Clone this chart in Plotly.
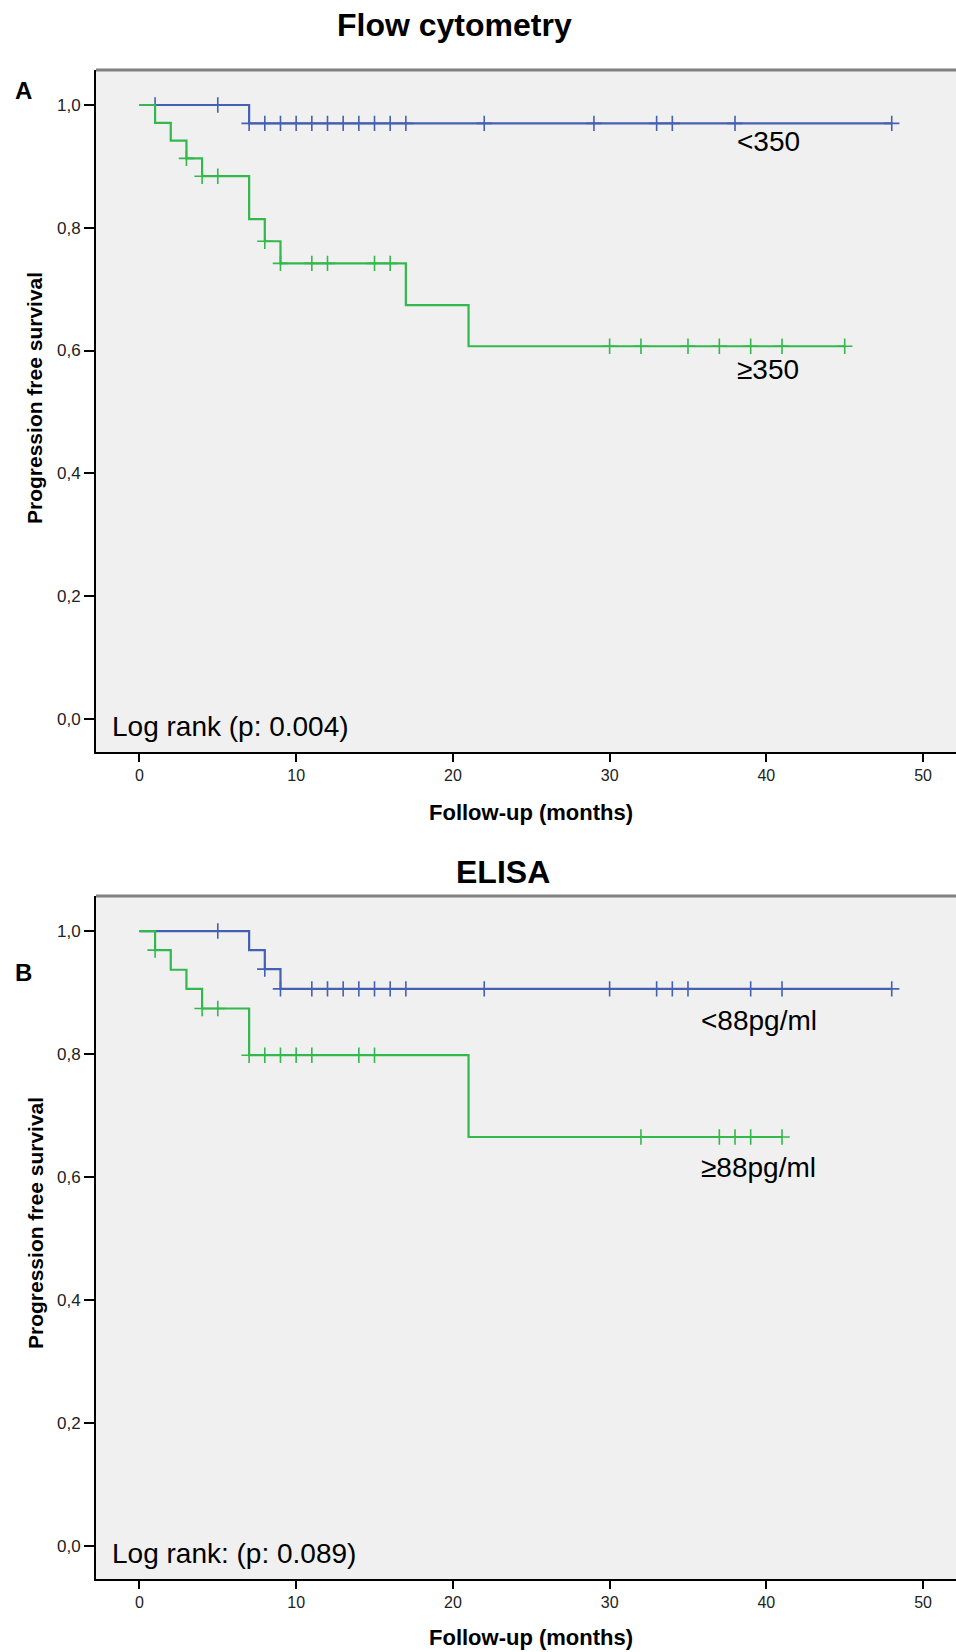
import plotly.graph_objects as go

# ---------------- data ----------------
# Panel A: Flow cytometry
fc_low_drop_t = [7]
fc_low_drop_s = [0.970]
fc_low_end = 48
fc_low_censor = [1, 5, 7, 8, 9, 10, 11, 12, 13, 14, 15, 16, 17, 22, 29, 33, 34, 38, 48]

fc_high_drop_t = [1, 2, 3, 4, 7, 8, 9, 17, 21]
fc_high_drop_s = [0.971, 0.942, 0.913, 0.884, 0.814, 0.778, 0.742, 0.674, 0.607]
fc_high_end = 45
fc_high_censor = [3, 4, 5, 8, 9, 11, 12, 15, 16, 30, 32, 35, 37, 39, 41, 45]

# Panel B: ELISA
el_low_drop_t = [7, 8, 9]
el_low_drop_s = [0.969, 0.938, 0.906]
el_low_end = 48
el_low_censor = [5, 8, 9, 11, 12, 13, 14, 15, 16, 17, 22, 30, 33, 34, 35, 39, 41, 48]

el_high_drop_t = [1, 2, 3, 4, 7, 21]
el_high_drop_s = [0.969, 0.937, 0.906, 0.874, 0.798, 0.665]
el_high_end = 41
el_high_censor = [1, 4, 5, 7, 8, 9, 10, 11, 14, 15, 32, 37, 38, 39, 41]

x_ticks = [0, 10, 20, 30, 40, 50]
y_ticks = [0.0, 0.2, 0.4, 0.6, 0.8, 1.0]
y_ticktext = ["0,0", "0,2", "0,4", "0,6", "0,8", "1,0"]

BLUE = "#4560b3"
GREEN = "#33b84c"
FONT = "Liberation Sans, Arial, sans-serif"


def level_at(t, drop_t, drop_s):
    s = 1.0
    for dt, ds in zip(drop_t, drop_s):
        if dt <= t:
            s = ds
    return s


def add_curve(fig, drop_t, drop_s, end, censor, color, xa, ya):
    xs = [0] + list(drop_t) + [end]
    ys = [1.0] + list(drop_s) + [drop_s[-1]]
    fig.add_trace(go.Scatter(x=xs, y=ys, mode="lines", line=dict(color=color, width=2.2, shape="hv"),
                             xaxis=xa, yaxis=ya, showlegend=False, hoverinfo="skip"))
    fig.add_trace(go.Scatter(x=censor, y=[level_at(t, drop_t, drop_s) for t in censor], mode="markers",
                             marker=dict(symbol="cross-thin-open", size=11, color=color,
                                         line=dict(color=color, width=1.6)),
                             xaxis=xa, yaxis=ya, showlegend=False, hoverinfo="skip"))


fig = go.Figure()
add_curve(fig, fc_low_drop_t, fc_low_drop_s, fc_low_end, fc_low_censor, BLUE, "x", "y")
add_curve(fig, fc_high_drop_t, fc_high_drop_s, fc_high_end, fc_high_censor, GREEN, "x", "y")
add_curve(fig, el_low_drop_t, el_low_drop_s, el_low_end, el_low_censor, BLUE, "x2", "y2")
add_curve(fig, el_high_drop_t, el_high_drop_s, el_high_end, el_high_censor, GREEN, "x2", "y2")

W, H = 956, 1652
xdom = [96 / W, 1.0]
top_dom = [1 - 752 / H, 1 - 70 / H]
bot_dom = [1 - 1579 / H, 1 - 896 / H]
xr = [-2.77, 52.1]
yr = [-0.054, 1.057]

axis_x = dict(range=xr, domain=xdom, tickmode="array", tickvals=x_ticks, showgrid=False, zeroline=False,
              showline=True, linecolor="black", linewidth=2, ticks="outside", ticklen=8, tickwidth=1.5,
              tickcolor="black", tickfont=dict(family=FONT, size=16, color="#222"))
axis_y = dict(range=yr, tickmode="array", tickvals=y_ticks, ticktext=y_ticktext, showgrid=False,
              zeroline=False, showline=True, linecolor="black", linewidth=2, ticks="outside", ticklen=10,
              tickwidth=2, tickcolor="black", tickfont=dict(family=FONT, size=17, color="#222"))

fig.update_layout(
    width=W, height=H, autosize=False,
    margin=dict(l=0, r=0, t=0, b=0),
    paper_bgcolor="white", plot_bgcolor="#f0f0f0",
    xaxis=dict(axis_x, anchor="y"),
    yaxis=dict(axis_y, domain=top_dom, anchor="x"),
    xaxis2=dict(axis_x, anchor="y2"),
    yaxis2=dict(axis_y, domain=bot_dom, anchor="x2"),
)

# grey top borders
for dom in (top_dom, bot_dom):
    fig.add_shape(type="line", xref="paper", yref="paper", x0=xdom[0], x1=1.0, y0=dom[1], y1=dom[1],
                  line=dict(color="#808080", width=3))

ann = []
def A(text, x, y, size, bold=False, xref="paper", yref="paper", xanchor="center", yanchor="middle", angle=0):
    ann.append(dict(text=f"<b>{text}</b>" if bold else text, x=x, y=y, xref=xref, yref=yref,
                    xanchor=xanchor, yanchor=yanchor, showarrow=False, textangle=angle,
                    font=dict(family=FONT, size=size, color="black")))

A("Flow cytometry", 454 / W, 1 - 25 / H, 32, bold=True)
A("ELISA", 503 / W, 1 - 872 / H, 32, bold=True)
A("A", 23 / W, 1 - 90 / H, 24, bold=True)
A("B", 23 / W, 1 - 972 / H, 24, bold=True)
A("Progression free survival", 35 / W, 1 - 398 / H, 21, bold=True, angle=-90)
A("Progression free survival", 35 / W, 1 - 1223 / H, 21, bold=True, angle=-90)
A("Follow-up (months)", 531 / W, 1 - 812 / H, 22, bold=True)
A("Follow-up (months)", 531 / W, 1 - 1637 / H, 22, bold=True)
A("Log rank (p: 0.004)", -1.85, -0.013, 28, xref="x", yref="y", xanchor="left")
A("Log rank: (p: 0.089)", -1.85, -0.013, 28, xref="x2", yref="y2", xanchor="left")
A("&lt;350", 38.0, 0.94, 28, xref="x", yref="y", xanchor="left")
A("≥350", 38.0, 0.569, 28, xref="x", yref="y", xanchor="left")
A("&lt;88pg/ml", 35.7, 0.854, 28, xref="x2", yref="y2", xanchor="left")
A("≥88pg/ml", 35.7, 0.615, 28, xref="x2", yref="y2", xanchor="left")
fig.update_layout(annotations=ann)

fig.write_html("out.html", config={"displayModeBar": False},
               post_script="document.body.style.margin='0';document.body.style.overflow='hidden';")
